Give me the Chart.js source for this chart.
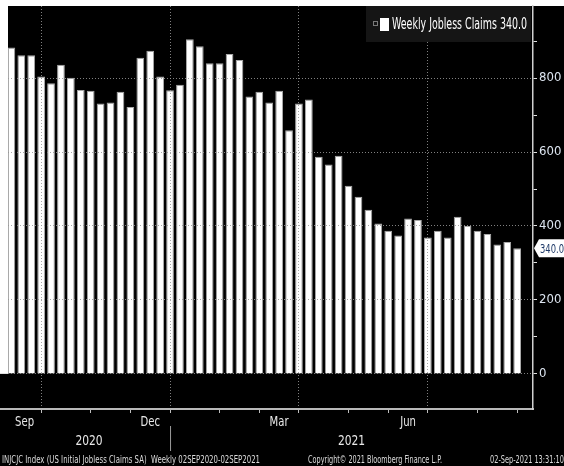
<!DOCTYPE html>
<html>
<head>
<meta charset="utf-8">
<script src="https://cdn.jsdelivr.net/npm/chart.js@4.4.1/dist/chart.umd.min.js"></script>
<style>
  html, body { margin: 0; padding: 0; background: #000; }
  #wrap { width: 564px; height: 466px; }
</style>
</head>
<body>
<div id="wrap"><canvas id="claimsChart" width="564" height="466"></canvas></div>
<script>
// weekly dates as Bloomberg stamps them (Fridays)
const weeks = [
  "2020-09-04", "2020-09-11", "2020-09-18", "2020-09-25", "2020-10-02", "2020-10-09",
  "2020-10-16", "2020-10-23", "2020-10-30", "2020-11-06", "2020-11-13", "2020-11-20",
  "2020-11-27", "2020-12-04", "2020-12-11", "2020-12-18", "2020-12-25", "2021-01-01",
  "2021-01-08", "2021-01-15", "2021-01-22", "2021-01-29", "2021-02-05", "2021-02-12",
  "2021-02-19", "2021-02-26", "2021-03-05", "2021-03-12", "2021-03-19", "2021-03-26",
  "2021-04-02", "2021-04-09", "2021-04-16", "2021-04-23", "2021-04-30", "2021-05-07",
  "2021-05-14", "2021-05-21", "2021-05-28", "2021-06-04", "2021-06-11", "2021-06-18",
  "2021-06-25", "2021-07-02", "2021-07-09", "2021-07-16", "2021-07-23", "2021-07-30",
  "2021-08-06", "2021-08-13", "2021-08-20", "2021-08-27"
];
// initial claims, thousands
const claims = [
  883, 862, 862, 804, 786, 836, 801, 768, 766, 731, 734, 763,
  722, 855, 874, 804, 767, 782, 905, 886, 840, 840, 865, 849,
  750, 763, 734, 766, 659, 731, 742, 587, 566, 590, 509, 479,
  444, 407, 387, 374, 420, 416, 369, 387, 369, 425, 400, 387,
  378, 350, 357, 340
];
// last week of each month -> x tick marks
const monthEndIdx = [3, 8, 12, 16, 21, 25, 29, 34, 38, 42, 47, 51];
const quarterIdx = [3, 16, 29, 42];
const monthLabels = ["Sep", "Dec", "Mar", "Jun"];
const monthSpans = [[null, 3], [12, 16], [25, 29], [38, 42]];
const yearLabels = ["2020", "2021"];
const yearSpans = [[null, 16], [16, null]];
const yTicks = [0, 100, 200, 300, 400, 500, 600, 700, 800, 900];
const yLabelTicks = [0, 200, 400, 600, 800];
const yMin = -95, yMax = 995;
const xMin = -0.34, xMax = 52.6;

const seriesName = "Weekly Jobless Claims";
const footLeft = "INJCJC Index (US Initial Jobless Claims SA)  Weekly 02SEP2020-02SEP2021";
const footMid = "Copyright\u00a9 2021 Bloomberg Finance L.P.";
const footRight = "02-Sep-2021 13:31:10";

const narrow = "'Liberation Sans Narrow', 'DejaVu Sans Condensed', 'Roboto Condensed', 'Arial Narrow', sans-serif";
const gridGrey = "rgba(150,150,150,0.85)";

function squeezeText(ctx, text, x, y, squeeze) {
  const w = ctx.measureText(text).width;
  ctx.fillText(text, x, y, w * squeeze);
}

function paintBackground(chart) {
  const { ctx, width, height, chartArea, scales } = chart;
  ctx.save();
  ctx.fillStyle = "#000";
  ctx.fillRect(0, 0, width, height);
  ctx.fillStyle = "#fff";
  ctx.fillRect(0, 0, width, chartArea.top);
  ctx.fillRect(0, 0, chartArea.left, scales.y.getPixelForValue(0));
  ctx.restore();
}

const bloombergDecor = {
  id: "bloombergDecor",
  beforeDatasetsDraw(chart) {
    paintBackground(chart);
  },
  afterDraw(chart) {
    const { ctx, width, height, chartArea, scales } = chart;
    const x = scales.x, y = scales.y;
    const bottom = chartArea.bottom;
    ctx.save();

    // axis line runs to the left edge
    ctx.strokeStyle = "#b8b8b8";
    ctx.lineWidth = 2;
    ctx.beginPath();
    ctx.moveTo(0, bottom);
    ctx.lineTo(chartArea.left, bottom);
    ctx.stroke();

    // month and year labels centred in their spans
    ctx.fillStyle = "#e8e8e8";
    ctx.textAlign = "center";
    ctx.textBaseline = "middle";
    ctx.font = "14px " + narrow;
    monthLabels.forEach((lab, i) => {
      const a = monthSpans[i][0] ?? xMin, b = monthSpans[i][1] ?? xMax;
      squeezeText(ctx, lab, x.getPixelForValue((a + b) / 2), bottom + 13, 0.8);
    });
    yearLabels.forEach((lab, i) => {
      const a = yearSpans[i][0] ?? xMin, b = yearSpans[i][1] ?? xMax;
      squeezeText(ctx, lab, x.getPixelForValue((a + b) / 2), bottom + 32, 0.85);
    });
    const sep = x.getPixelForValue(yearSpans[1][0]);
    ctx.strokeStyle = "#9a9a9a";
    ctx.lineWidth = 1;
    ctx.beginPath();
    ctx.moveTo(sep + 0.5, bottom + 17);
    ctx.lineTo(sep + 0.5, bottom + 42);
    ctx.stroke();

    // footer
    ctx.font = "10px " + narrow;
    ctx.fillStyle = "#dcdcdc";
    ctx.textAlign = "left";
    ctx.fillText(footLeft, 2, height - 6, 258);
    ctx.fillText(footMid, 308, height - 6, 134);
    ctx.fillText(footRight, 490, height - 6, 74);

    // legend box
    const last = claims[claims.length - 1];
    const lx = chartArea.right - 167, ly = chartArea.top;
    ctx.fillStyle = "#151515";
    ctx.fillRect(lx, ly, 165, 36);
    ctx.strokeStyle = "#7a7a7a";
    ctx.strokeRect(lx + 7.5, ly + 15.5, 4, 4);
    ctx.fillStyle = "#fff";
    ctx.fillRect(lx + 14, ly + 12, 9, 13);
    ctx.font = "15px " + narrow;
    ctx.textBaseline = "middle";
    ctx.fillText(seriesName + " " + last.toFixed(1), lx + 26, ly + 19, 135);

    // last value badge on the axis
    const yc = y.getPixelForValue(last);
    const bx = chartArea.right + 1;
    ctx.fillStyle = "#fff";
    ctx.beginPath();
    ctx.moveTo(bx, yc);
    ctx.lineTo(bx + 5, yc - 9);
    ctx.lineTo(width, yc - 9);
    ctx.lineTo(width, yc + 9);
    ctx.lineTo(bx + 5, yc + 9);
    ctx.closePath();
    ctx.fill();
    ctx.fillStyle = "#1f3a68";
    ctx.font = "13px " + narrow;
    ctx.fillText(last.toFixed(1), bx + 6, yc + 1, 24);
    ctx.restore();
  }
};

const ctx = document.getElementById("claimsChart").getContext("2d");
const claimsChart = new Chart(ctx, {
  type: "bar",
  data: {
    datasets: [
      {
        label: seriesName,
        data: claims.map((v, i) => ({ x: i, y: v, week: weeks[i] })),
        backgroundColor: "#ffffff",
        borderColor: "#a8a8a8",
        borderWidth: 1,
        barPercentage: 0.78,
        categoryPercentage: 1,
      },
    ],
  },
  options: {
    responsive: false,
    animation: false,
    layout: { padding: { left: 8, top: 6, right: 0, bottom: 0 } },
    plugins: {
      legend: { display: false },
      tooltip: { enabled: false },
    },
    scales: {
      x: {
        type: "linear",
        min: xMin,
        max: xMax,
        offset: false,
        afterBuildTicks: (s) => {
          s.ticks = monthEndIdx.map((v) => ({ value: v }));
        },
        afterFit: (s) => {
          s.height = 57;
          s.paddingLeft = 0;
          s.paddingRight = 0;
        },
        ticks: { display: false, z: 1 },
        grid: {
          offset: false,
          z: 1,
          color: (c) => (c.tick && quarterIdx.includes(c.tick.value) ? gridGrey : "transparent"),
          tickColor: "#bdbdbd",
          tickLength: 4,
        },
        border: { color: "#b8b8b8", width: 2, dash: [1, 2], z: 1 },
      },
      y: {
        position: "right",
        min: yMin,
        max: yMax,
        afterBuildTicks: (s) => {
          s.ticks = yTicks.map((v) => ({ value: v }));
        },
        afterFit: (s) => {
          s.width = 31;
          s.paddingTop = 0;
          s.paddingBottom = 0;
        },
        ticks: {
          z: 1,
          padding: 2,
          autoSkip: false,
          color: "#dde5f0",
          font: { family: narrow, size: 13 },
          callback: (v) => (yLabelTicks.includes(v) ? String(v) : ""),
        },
        grid: {
          z: 1,
          color: (c) => (c.tick && yLabelTicks.includes(c.tick.value) ? gridGrey : "transparent"),
          tickColor: "#e0e0e0",
          tickLength: 4,
        },
        border: { color: "#d0d0d0", width: 1.5, dash: [1, 2], z: 1 },
      },
    },
  },
  plugins: [bloombergDecor],
});
</script>
</body>
</html>
